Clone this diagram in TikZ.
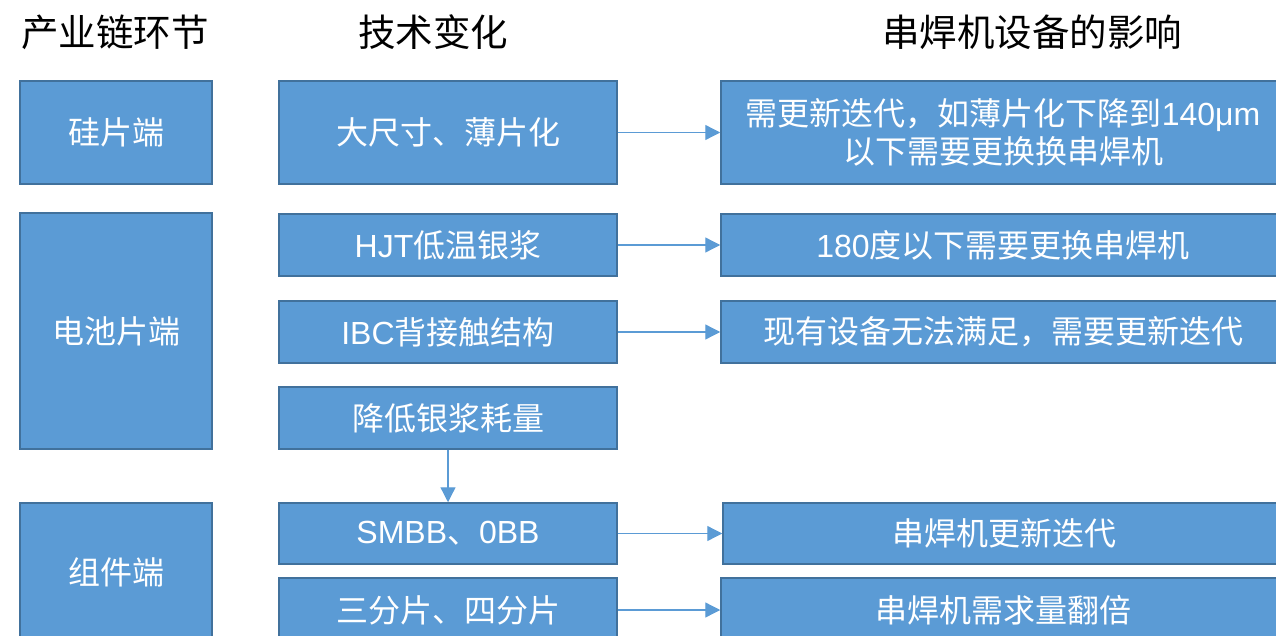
\documentclass[tikz,border=0pt]{standalone}
\usepackage{fontspec}
\setmainfont{Noto Sans CJK SC}
\newfontfamily\lat{Liberation Sans}
\usetikzlibrary{arrows.meta}
\definecolor{boxfill}{HTML}{5B9BD5}
\definecolor{boxborder}{HTML}{41719C}
\definecolor{arrowcol}{HTML}{5B9BD5}
\tikzset{
  box/.style={draw=boxborder, fill=boxfill, line width=1.5pt, text=white,
    inner sep=0pt, align=center, font=\fontsize{32}{38}\selectfont},
  hdr/.style={inner sep=0pt, font=\fontsize{37.5}{44}\selectfont},
  conn/.style={draw=arrowcol, line width=1.3pt, -{Triangle[length=15pt,width=15pt]}}
}
\begin{document}
\begin{tikzpicture}[x=1pt,y=-1pt]
\useasboundingbox (0,0) rectangle (1276,636);
% headers
\node[hdr] (h1) at (115,32) {产业链环节};
\node[hdr] (h2) at (433,32) {技术变化};
\node[hdr] (h3) at (1032,32) {串焊机设备的影响};
% left column
\node[box, minimum width=192pt, minimum height=103pt] (l1) at (116,132.5) {硅片端};
\node[box, minimum width=192pt, minimum height=236pt] (l2) at (116,331) {电池片端};
\node[box, minimum width=192pt, minimum height=138pt] (l3) at (116,572) {组件端};
% middle column
\node[box, minimum width=338pt, minimum height=103pt] (m1) at (448,132.5) {大尺寸、薄片化};
\node[box, minimum width=338pt, minimum height=62pt] (m2) at (448,245) {{\lat HJT}低温银浆};
\node[box, minimum width=338pt, minimum height=62pt] (m3) at (448,332) {{\lat IBC}背接触结构};
\node[box, minimum width=338pt, minimum height=62pt] (m4) at (448,418) {降低银浆耗量};
\node[box, minimum width=338pt, minimum height=61pt] (m5) at (448,533.5) {{\lat SMBB}、{\lat 0BB}};
\node[box, minimum width=338pt, minimum height=64pt] (m6) at (448,610) {三分片、四分片};
% right column
\node[box, minimum width=564pt, minimum height=103pt] (r1) at (1003,132.5) {需更新迭代，如薄片化下降到{\lat 140μm}\\以下需要更换换串焊机};
\node[box, minimum width=564pt, minimum height=62pt] (r2) at (1003,245) {{\lat 180}度以下需要更换串焊机};
\node[box, minimum width=564pt, minimum height=62pt] (r3) at (1003,332) {现有设备无法满足，需要更新迭代};
\node[box, minimum width=562pt, minimum height=61pt] (r5) at (1004,533.5) {串焊机更新迭代};
\node[box, minimum width=564pt, minimum height=64pt] (r6) at (1003,610) {串焊机需求量翻倍};
% connectors
\draw[conn] (m1.east) -- (r1.west);
\draw[conn] (m2.east) -- (r2.west);
\draw[conn] (m3.east) -- (r3.west);
\draw[conn] (m4.south) -- (m5.north);
\draw[conn] (m5.east) -- (r5.west);
\draw[conn] (m6.east) -- (r6.west);
\end{tikzpicture}
\end{document}
